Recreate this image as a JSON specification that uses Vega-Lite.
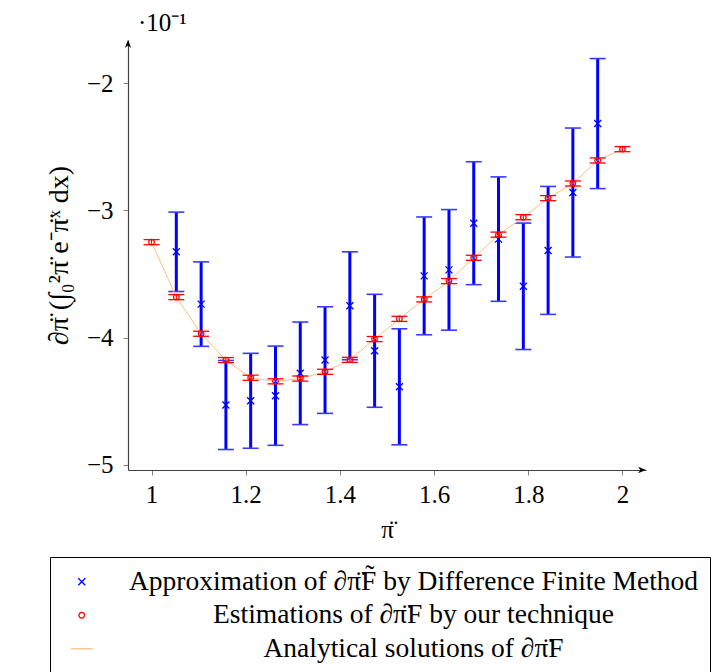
{
  "$schema": "https://vega.github.io/schema/vega-lite/v6.json",
  "autosize": {"type": "none"},
  "padding": {"left": 128, "top": 40, "right": 69, "bottom": 202},
  "width": 518,
  "height": 430,
  "title": {"text": "·10⁻¹", "orient": "top", "anchor": "start", "frame": "group", "baseline": "alphabetic", "offset": -16, "dx": 10, "font": "Liberation Serif", "fontSize": 25, "fontWeight": "normal", "color": "black"},
  "datasets": {
    "d": [
      {"x": 1.0526, "s": "A", "v": -3.325, "lo": -3.637, "hi": -3.013},
      {"x": 1.1053, "s": "A", "v": -3.736, "lo": -4.068, "hi": -3.404},
      {"x": 1.1579, "s": "A", "v": -4.529, "lo": -4.879, "hi": -4.179},
      {"x": 1.2105, "s": "A", "v": -4.496, "lo": -4.869, "hi": -4.123},
      {"x": 1.2632, "s": "A", "v": -4.456, "lo": -4.846, "hi": -4.066},
      {"x": 1.3158, "s": "A", "v": -4.28, "lo": -4.683, "hi": -3.877},
      {"x": 1.3684, "s": "A", "v": -4.176, "lo": -4.595, "hi": -3.757},
      {"x": 1.4211, "s": "A", "v": -3.749, "lo": -4.173, "hi": -3.325},
      {"x": 1.4737, "s": "A", "v": -4.103, "lo": -4.547, "hi": -3.659},
      {"x": 1.5263, "s": "A", "v": -4.386, "lo": -4.842, "hi": -3.93},
      {"x": 1.5789, "s": "A", "v": -3.514, "lo": -3.977, "hi": -3.051},
      {"x": 1.6316, "s": "A", "v": -3.467, "lo": -3.941, "hi": -2.993},
      {"x": 1.6842, "s": "A", "v": -3.1, "lo": -3.583, "hi": -2.617},
      {"x": 1.7368, "s": "A", "v": -3.225, "lo": -3.714, "hi": -2.736},
      {"x": 1.7895, "s": "A", "v": -3.596, "lo": -4.093, "hi": -3.099},
      {"x": 1.8421, "s": "A", "v": -3.314, "lo": -3.817, "hi": -2.811},
      {"x": 1.8947, "s": "A", "v": -2.859, "lo": -3.366, "hi": -2.352},
      {"x": 1.9474, "s": "A", "v": -2.317, "lo": -2.828, "hi": -1.806},
      {"x": 1.0, "s": "E", "v": -3.249, "lo": -3.269, "hi": -3.229},
      {"x": 1.0526, "s": "E", "v": -3.681, "lo": -3.701, "hi": -3.661},
      {"x": 1.1053, "s": "E", "v": -3.969, "lo": -3.989, "hi": -3.949},
      {"x": 1.1579, "s": "E", "v": -4.176, "lo": -4.196, "hi": -4.156},
      {"x": 1.2105, "s": "E", "v": -4.315, "lo": -4.335, "hi": -4.295},
      {"x": 1.2632, "s": "E", "v": -4.343, "lo": -4.363, "hi": -4.323},
      {"x": 1.3158, "s": "E", "v": -4.321, "lo": -4.341, "hi": -4.301},
      {"x": 1.3684, "s": "E", "v": -4.268, "lo": -4.288, "hi": -4.248},
      {"x": 1.4211, "s": "E", "v": -4.174, "lo": -4.194, "hi": -4.154},
      {"x": 1.4737, "s": "E", "v": -4.011, "lo": -4.031, "hi": -3.991},
      {"x": 1.5263, "s": "E", "v": -3.852, "lo": -3.872, "hi": -3.832},
      {"x": 1.5789, "s": "E", "v": -3.699, "lo": -3.719, "hi": -3.679},
      {"x": 1.6316, "s": "E", "v": -3.555, "lo": -3.575, "hi": -3.535},
      {"x": 1.6842, "s": "E", "v": -3.372, "lo": -3.392, "hi": -3.352},
      {"x": 1.7368, "s": "E", "v": -3.19, "lo": -3.21, "hi": -3.17},
      {"x": 1.7895, "s": "E", "v": -3.053, "lo": -3.073, "hi": -3.033},
      {"x": 1.8421, "s": "E", "v": -2.903, "lo": -2.923, "hi": -2.883},
      {"x": 1.8947, "s": "E", "v": -2.788, "lo": -2.808, "hi": -2.768},
      {"x": 1.9474, "s": "E", "v": -2.607, "lo": -2.627, "hi": -2.587},
      {"x": 2.0, "s": "E", "v": -2.518, "lo": -2.538, "hi": -2.498},
      {"x": 1.0, "s": "L", "v": -3.249},
      {"x": 1.0526, "s": "L", "v": -3.681},
      {"x": 1.1053, "s": "L", "v": -3.969},
      {"x": 1.1579, "s": "L", "v": -4.176},
      {"x": 1.2105, "s": "L", "v": -4.315},
      {"x": 1.2632, "s": "L", "v": -4.343},
      {"x": 1.3158, "s": "L", "v": -4.321},
      {"x": 1.3684, "s": "L", "v": -4.268},
      {"x": 1.4211, "s": "L", "v": -4.174},
      {"x": 1.4737, "s": "L", "v": -4.011},
      {"x": 1.5263, "s": "L", "v": -3.852},
      {"x": 1.5789, "s": "L", "v": -3.699},
      {"x": 1.6316, "s": "L", "v": -3.555},
      {"x": 1.6842, "s": "L", "v": -3.372},
      {"x": 1.7368, "s": "L", "v": -3.19},
      {"x": 1.7895, "s": "L", "v": -3.053},
      {"x": 1.8421, "s": "L", "v": -2.903},
      {"x": 1.8947, "s": "L", "v": -2.788},
      {"x": 1.9474, "s": "L", "v": -2.607},
      {"x": 2.0, "s": "L", "v": -2.518}
    ],
    "arrows": [
      {"ax": 2.05, "ay": -5.04, "dir": "right"},
      {"ax": 0.95, "ay": -1.66, "dir": "up"}
    ]
  },
  "data": {"name": "d"},
  "encoding": {
    "x": {"field": "x", "type": "quantitative",
      "scale": {"domain": [0.95, 2.05], "nice": false, "zero": false},
      "axis": {"values": [1, 1.2, 1.4, 1.6, 1.8, 2], "format": "~g", "title": "π\u0308", "grid": false, "labelPadding": 7, "titlePadding": 10}}
  },
  "layer": [
    {
      "transform": [{"filter": "datum.s == 'A'"}],
      "mark": {"type": "rule", "color": "#0000ff", "strokeWidth": 3},
      "encoding": {
        "y": {"field": "lo", "type": "quantitative",
          "scale": {"domain": [-5.04, -1.66], "nice": false, "zero": false},
          "axis": {"values": [-5, -4, -3, -2], "format": "d", "grid": false, "labelPadding": 10, "titlePadding": 13, "titleFontSize": 28,
            "title": "∂π\u0308 (∫₀²π\u0308 e⁻π\u0308ˣ dx)"}},
        "y2": {"field": "hi"}
      }
    },
    {
      "transform": [{"filter": "datum.s == 'A'"}],
      "mark": {"type": "tick", "orient": "horizontal", "color": "#3a3aff", "size": 16, "thickness": 1.6, "opacity": 1},
      "encoding": {"y": {"field": "lo", "type": "quantitative"}}
    },
    {
      "transform": [{"filter": "datum.s == 'A'"}],
      "mark": {"type": "tick", "orient": "horizontal", "color": "#3a3aff", "size": 16, "thickness": 1.6, "opacity": 1},
      "encoding": {"y": {"field": "hi", "type": "quantitative"}}
    },
    {
      "transform": [{"filter": "datum.s == 'L'"}],
      "mark": {"type": "line", "strokeWidth": 1},
      "encoding": {
        "y": {"field": "v", "type": "quantitative"},
        "color": {"field": "s", "type": "nominal"}
      }
    },
    {
      "transform": [{"filter": "datum.s == 'A'"}],
      "mark": {"type": "point", "filled": false, "size": 49, "strokeWidth": 1.3, "opacity": 1},
      "encoding": {
        "y": {"field": "v", "type": "quantitative"},
        "color": {"field": "s", "type": "nominal",
          "scale": {"domain": ["A", "E", "L"], "range": ["#0000ff", "#ff0000", "#ffbf80"]},
          "legend": {"labelExpr": "datum.value == 'A' ? 'Approximation of ∂π\u0308F\u0303 by Difference Finite Method' : datum.value == 'E' ? 'Estimations of ∂π\u0308F by our technique' : 'Analytical solutions of ∂π\u0308F'"}},
        "shape": {"field": "s", "type": "nominal",
          "scale": {"domain": ["A", "E", "L"], "range": ["M-1,-1L1,1M-1,1L1,-1", "M0.8,0A0.8,0.8,0,1,1,-0.8,0A0.8,0.8,0,1,1,0.8,0Z", "M-3.1,0L3.1,0"]},
          "legend": {"labelExpr": "datum.value == 'A' ? 'Approximation of ∂π\u0308F\u0303 by Difference Finite Method' : datum.value == 'E' ? 'Estimations of ∂π\u0308F by our technique' : 'Analytical solutions of ∂π\u0308F'"}}
      }
    },
    {
      "transform": [{"filter": "datum.s == 'E'"}],
      "mark": {"type": "rule", "color": "#ff0000", "strokeWidth": 1},
      "encoding": {
        "y": {"field": "lo", "type": "quantitative"},
        "y2": {"field": "hi"}
      }
    },
    {
      "transform": [{"filter": "datum.s == 'E'"}],
      "mark": {"type": "tick", "orient": "horizontal", "color": "#ff0000", "size": 16, "thickness": 1.3, "opacity": 1},
      "encoding": {"y": {"field": "lo", "type": "quantitative"}}
    },
    {
      "transform": [{"filter": "datum.s == 'E'"}],
      "mark": {"type": "tick", "orient": "horizontal", "color": "#ff0000", "size": 16, "thickness": 1.3, "opacity": 1},
      "encoding": {"y": {"field": "hi", "type": "quantitative"}}
    },
    {
      "transform": [{"filter": "datum.s == 'E'"}],
      "mark": {"type": "point", "filled": false, "size": 49, "strokeWidth": 1.3, "opacity": 1},
      "encoding": {
        "y": {"field": "v", "type": "quantitative"},
        "color": {"field": "s", "type": "nominal"},
        "shape": {"field": "s", "type": "nominal"}
      }
    },
    {
      "data": {"name": "arrows"},
      "transform": [{"filter": "datum.dir == 'right'"}],
      "mark": {"type": "point", "shape": "M0,0L-2,-0.8L-1.4,0L-2,0.8Z", "size": 64, "filled": true, "color": "black", "opacity": 1, "strokeWidth": 0},
      "encoding": {
        "x": {"field": "ax", "type": "quantitative"},
        "y": {"field": "ay", "type": "quantitative"}
      }
    },
    {
      "data": {"name": "arrows"},
      "transform": [{"filter": "datum.dir == 'up'"}],
      "mark": {"type": "point", "shape": "M0,0L-0.8,2L0,1.4L0.8,2Z", "size": 64, "filled": true, "color": "black", "opacity": 1, "strokeWidth": 0},
      "encoding": {
        "x": {"field": "ax", "type": "quantitative"},
        "y": {"field": "ay", "type": "quantitative"}
      }
    }
  ],
  "config": {
    "font": "Liberation Serif",
    "view": {"stroke": null},
    "axis": {
      "labelFont": "Liberation Serif", "labelFontSize": 25, "labelColor": "black",
      "titleFont": "Liberation Serif", "titleFontSize": 25, "titleFontWeight": "normal", "titleColor": "black",
      "domainColor": "#404040", "domainWidth": 1.2, "tickColor": "#808080", "tickSize": 5, "tickWidth": 1
    },
    "legend": {
      "orient": "none", "legendX": -78, "legendY": 517, "direction": "vertical",
      "title": null, "fillColor": "white", "strokeColor": "black", "strokeWidth": 1,
      "padding": 11, "symbolOffset": 7, "labelAlign": "center", "labelOffset": 318,
      "rowPadding": 4.5, "labelFont": "Liberation Serif", "labelFontSize": 27.5, "labelColor": "black", "labelLimit": 0,
      "symbolSize": 49, "symbolStrokeWidth": 1.3
    }
  }
}
